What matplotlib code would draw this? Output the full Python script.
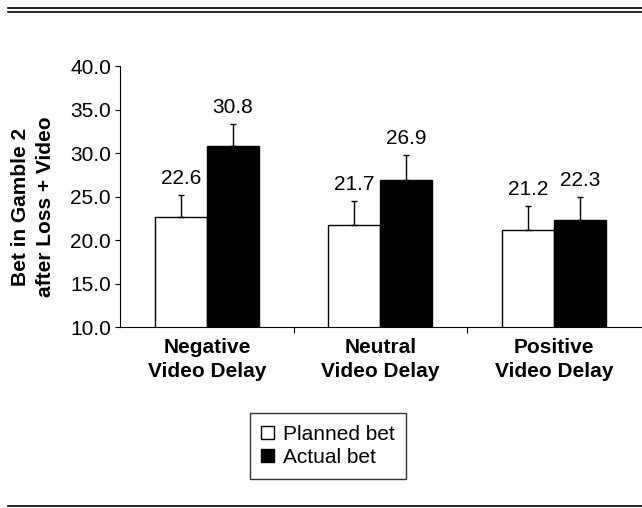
import matplotlib
matplotlib.use("Agg")
import matplotlib.pyplot as plt
from matplotlib.patches import Patch
from matplotlib.lines import Line2D
import numpy as np

plt.rcParams['font.family'] = ['Liberation Sans', 'DejaVu Sans']

categories = ["Negative\nVideo Delay", "Neutral\nVideo Delay", "Positive\nVideo Delay"]
planned = [22.6, 21.7, 21.2]
actual = [30.8, 26.9, 22.3]
planned_err = [2.6, 2.8, 2.7]
actual_err = [2.5, 2.9, 2.7]
yticks = [10.0, 15.0, 20.0, 25.0, 30.0, 35.0, 40.0]

fig = plt.figure(figsize=(6.42, 5.08), dpi=100)
ax = fig.add_axes([0.187, 0.356, 0.811, 0.514])

x = np.arange(len(categories))
w = 0.30
ekw = dict(ecolor='black', elinewidth=1.0, capsize=2.5, capthick=1.0)
ax.bar(x - w/2, planned, w, bottom=0, color='white', edgecolor='black', linewidth=1.0,
       yerr=[np.zeros(3), planned_err], error_kw=ekw, zorder=2)
ax.bar(x + w/2, actual, w, bottom=0, color='black', edgecolor='black', linewidth=1.0,
       yerr=[np.zeros(3), actual_err], error_kw=ekw, zorder=2)

for xi, v, e in zip(x - w/2, planned, planned_err):
    ax.annotate(f"{v:.1f}", (xi, v + e), xytext=(0, 5), textcoords='offset points',
                ha='center', va='bottom', fontsize=15)
for xi, v, e in zip(x + w/2, actual, actual_err):
    ax.annotate(f"{v:.1f}", (xi, v + e), xytext=(0, 5), textcoords='offset points',
                ha='center', va='bottom', fontsize=15)

ax.set_ylim(10, 40)
ax.set_xlim(-0.5, 2.5)
ax.set_yticks(yticks)
ax.set_yticklabels([f"{t:.1f}" for t in yticks], fontsize=15)
ax.set_xticks(x)
ax.set_xticklabels(categories, fontsize=15, fontweight='bold', linespacing=1.32)
ax.set_xticks([0.5, 1.5], minor=True)
ax.tick_params(axis='x', which='major', length=0, pad=8)
ax.tick_params(axis='x', which='minor', length=4, width=0.8, direction='out')
ax.tick_params(axis='y', length=3.6, width=0.8, direction='out', pad=3)

for s in ['top', 'right']:
    ax.spines[s].set_visible(False)
for s in ['left', 'bottom']:
    ax.spines[s].set_linewidth(0.8)

ax.set_ylabel("Bet in Gamble 2\nafter Loss + Video", fontsize=15, fontweight='bold',
              linespacing=1.4)
ax.yaxis.set_label_coords(-0.125, 0.46)

handles = [Patch(facecolor='white', edgecolor='black', linewidth=1.0),
           Patch(facecolor='black', edgecolor='black', linewidth=1.0)]
leg = fig.legend(handles, ["Planned bet", "Actual bet"], loc='center',
                 bbox_to_anchor=(0.511, 0.122), fontsize=15, frameon=True,
                 fancybox=False, edgecolor='black', handlelength=0.6, handleheight=0.6,
                 handletextpad=0.45, labelspacing=0.2, borderpad=0.55)
leg.get_frame().set_linewidth(1.0)

fig.add_artist(Line2D([0.012, 1.0], [0.985, 0.985], color='black', linewidth=1.2,
                      transform=fig.transFigure))
fig.add_artist(Line2D([0.012, 1.0], [0.977, 0.977], color='black', linewidth=1.2,
                      transform=fig.transFigure))
fig.add_artist(Line2D([0.012, 1.0], [0.004, 0.004], color='black', linewidth=1.2,
                      transform=fig.transFigure))

fig.savefig("out.png", dpi=100)
